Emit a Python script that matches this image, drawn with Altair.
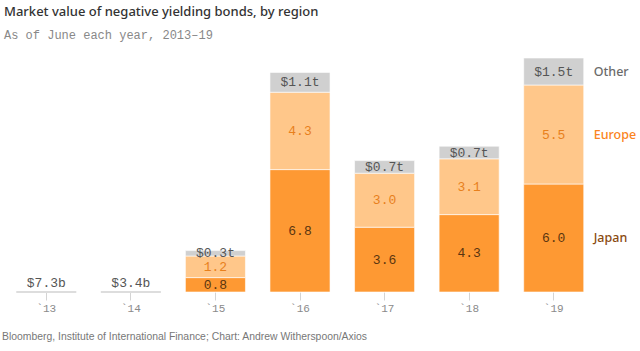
import altair as alt
import pandas as pd

years = ["`13", "`14", "`15", "`16", "`17", "`18", "`19"]
japan = [0.0, 0.0, 0.8, 6.8, 3.6, 4.3, 6.0]
europe = [0.0, 0.0, 1.2, 4.3, 3.0, 3.1, 5.5]
other = [0.0073, 0.0034, 0.3, 1.1, 0.7, 0.7, 1.5]
regions = ["Japan", "Europe", "Other"]

rows = []
for i, y in enumerate(years):
    for r, vals in zip(regions, [japan, europe, other]):
        rows.append({"year": y, "region": r, "value": vals[i], "order": regions.index(r)})
df = pd.DataFrame(rows)

W, H = 592, 243
bar_colors = ["#fe9933", "#ffc78a", "#d0d0d0"]
text_colors = ["#5a3510", "#e8801c", "#555555"]
legend_colors = ["#8a4a10", "#fb8420", "#6b6b6b"]

xenc = alt.X("year:N", sort=years,
             scale=alt.Scale(paddingInner=0.29, paddingOuter=0.145),
             axis=alt.Axis(title=None, labelAngle=0, domain=False, ticks=True,
                           tickColor="#d4d4d4", tickSize=8, tickWidth=1,
                           labelFont="Liberation Mono", labelFontSize=11,
                           labelColor="#8a8a8a", labelPadding=2))
yscale = alt.Scale(domain=[0, 13.5], nice=False)

base = alt.Chart(df).transform_stack(
    stack="value", groupby=["year"], as_=["y0", "y1"], sort=[alt.SortField("order")]
).transform_calculate(
    mid="(datum.y1 - datum.y0) < 0.1 ? 0.5 : (datum.y0 + datum.y1) / 2",
    label="datum.region == 'Other' ? (datum.value < 0.1 ? '$' + format(datum.value * 1000, '.1f') + 'b' : '$' + format(datum.value, '.1f') + 't') : format(datum.value, '.1f')",
    zero="0",
)

baseline = base.transform_filter(
    "datum.region == 'Other' && datum.value < 0.1"
).mark_bar(stroke="#dddddd", strokeWidth=2, fill="#dddddd").encode(
    x=xenc,
    y=alt.Y("zero:Q", scale=yscale, axis=None),
    y2="zero:Q",
)

bars = base.transform_filter("datum.value >= 0.1").mark_bar(stroke="white", strokeWidth=0.6).encode(
    x=xenc,
    y=alt.Y("y0:Q", scale=yscale, axis=None),
    y2="y1:Q",
    color=alt.Color("region:N", scale=alt.Scale(domain=regions, range=bar_colors), legend=None),
)

labels = base.transform_filter("datum.value > 0").mark_text(
    font="Liberation Mono", fontSize=13, baseline="middle"
).encode(
    x=xenc,
    y=alt.Y("mid:Q", scale=yscale, axis=None),
    text="label:N",
    color=alt.Color("region:N", scale=alt.Scale(domain=regions, range=text_colors), legend=None),
)

legend = base.transform_filter("datum.year == '`19'").mark_text(
    font="Noto Sans", fontSize=12.5, align="left", baseline="middle", dx=40, fontWeight=500
).encode(
    x=xenc,
    y=alt.Y("mid:Q", scale=yscale, axis=None),
    text="region:N",
    color=alt.Color("region:N", scale=alt.Scale(domain=regions, range=legend_colors), legend=None),
)

title = alt.Chart(pd.DataFrame({"t": ["Market value of negative yielding bonds, by region"]})).mark_text(
    font="Noto Sans", fontSize=13, fontWeight=500, color="#333333", align="left", baseline="middle"
).encode(x=alt.value(0), y=alt.value(-37), text="t:N")

subtitle = alt.Chart(pd.DataFrame({"t": ["As of June each year, 2013–19"]})).mark_text(
    font="Liberation Mono", fontSize=12, color="#888888", align="left", baseline="middle"
).encode(x=alt.value(0), y=alt.value(-14), text="t:N")

footer = alt.Chart(pd.DataFrame({"t": ["Bloomberg, Institute of International Finance; Chart: Andrew Witherspoon/Axios"]})).mark_text(
    font="Liberation Sans", fontSize=10.4, color="#777777", align="left", baseline="middle"
).encode(x=alt.value(-2), y=alt.value(H + 45), text="t:N")

chart = alt.layer(baseline, bars, labels, legend, title, subtitle, footer).resolve_scale(
    color="independent"
).properties(
    width=W, height=H,
    autosize=alt.AutoSizeParams(type="none"),
    padding={"left": 4, "top": 49, "right": 44, "bottom": 59},
).configure(background="white", view=alt.ViewConfig(stroke=None))

chart.save("out.html", embed_options={"renderer": "svg", "actions": False})
